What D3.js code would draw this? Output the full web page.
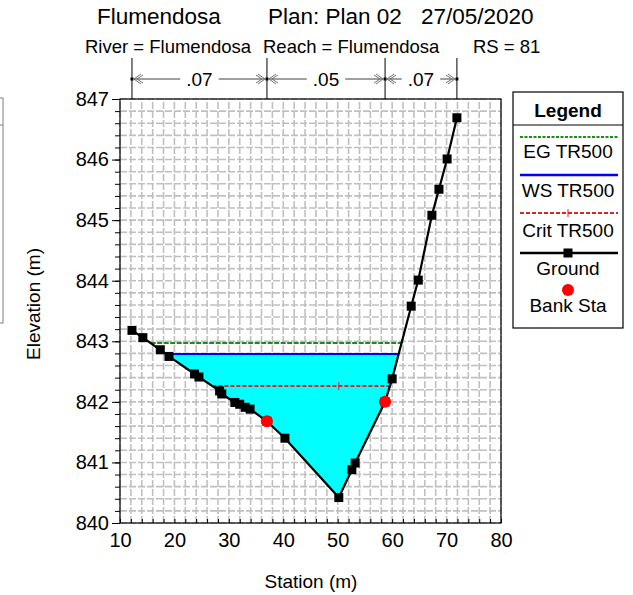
<!DOCTYPE html>
<html>
<head>
<meta charset="utf-8">
<script src="https://cdn.jsdelivr.net/npm/d3@7"></script>
<style>
  html, body { margin: 0; padding: 0; background: #fff; }
  svg { display: block; font-family: Arial, "Liberation Sans", sans-serif; }
</style>
</head>
<body>
<svg id="chart" width="633" height="595"></svg>
<script>
// Cross section RS 81 - ground profile (station m, elevation m)
const groundStation = [12.2, 14.2, 17.4, 19.0, 23.7, 24.5, 28.3, 28.7, 31.1, 32.0, 33.0, 33.9, 37.0, 40.3, 50.2, 52.6, 53.2, 58.7, 60.0, 63.5, 64.8, 67.3, 68.6, 70.1, 71.9];
const groundElev    = [843.18, 843.06, 842.86, 842.75, 842.46, 842.41, 842.18, 842.13, 841.99, 841.96, 841.91, 841.88, 841.68, 841.40, 840.42, 840.88, 840.99, 842.00, 842.38, 843.58, 844.01, 845.08, 845.51, 846.01, 846.69];

// Bank stations
const bankStation = [37.0, 58.7];
const bankElev    = [841.68, 842.00];

// Profile TR500 results
const egElev   = 842.97;
const wsElev   = 842.79;
const critElev = 842.26;
const critMarkStation = 50.2;

// Manning's n regions
const nBreaks = [12.2, 37.0, 58.7, 71.9];
const nValues = [".07", ".05", ".07"];

// Axis ticks
const xTicks = [10, 20, 30, 40, 50, 60, 70, 80];
const yTicks = [840, 841, 842, 843, 844, 845, 846, 847];

const legendLabels = ["EG TR500", "WS TR500", "Crit TR500", "Ground", "Bank Sta"];

const svg = d3.select("#chart");
const x = d3.scaleLinear().domain([10, 80]).range([120, 501]);
const y = d3.scaleLinear().domain([840, 847]).range([523, 99]);

const ground = groundStation.map((s, i) => [s, groundElev[i]]);

// Part of a neighbouring panel box at the left edge
svg.append("rect").attr("x", -10).attr("y", 98).attr("width", 13).attr("height", 225)
  .attr("fill", "none").attr("stroke", "#808080");
svg.append("line").attr("x1", -10).attr("x2", 3).attr("y1", 125).attr("y2", 125).attr("stroke", "#808080");

// Titles
svg.append("text").attr("x", 97).attr("y", 24).attr("font-size", 22.5).text("Flumendosa");
svg.append("text").attr("x", 268).attr("y", 24).attr("font-size", 22.5).text("Plan: Plan 02");
svg.append("text").attr("x", 421).attr("y", 24).attr("font-size", 22.5).text("27/05/2020");
svg.append("text").attr("x", 85).attr("y", 53).attr("font-size", 18.5).text("River = Flumendosa");
svg.append("text").attr("x", 263).attr("y", 53).attr("font-size", 18.5).text("Reach = Flumendosa");
svg.append("text").attr("x", 473).attr("y", 53).attr("font-size", 18.5).text("RS = 81");

// Grid (every 2 m horizontally, every 0.2 m vertically)
const grid = svg.append("g");
const xMinor = d3.range(10, 80.001, 2);
const yMinor = d3.range(840, 847.001, 0.2);
grid.selectAll("line.gx").data(xMinor).join("line")
  .attr("x1", d => x(d)).attr("x2", d => x(d)).attr("y1", y(840)).attr("y2", y(847))
  .attr("stroke", "#c0c0c0").attr("stroke-width", 1.6).attr("stroke-dasharray", "7,2");
grid.selectAll("line.gy").data(yMinor).join("line")
  .attr("x1", x(10)).attr("x2", x(80)).attr("y1", d => y(d)).attr("y2", d => y(d))
  .attr("stroke", "#c0c0c0").attr("stroke-width", 1.6).attr("stroke-dasharray", "7,2");

// Where a level crosses the ground: returns [left station, right station]
function crossings(level) {
  const xs = [];
  for (let i = 0; i < ground.length - 1; i++) {
    const [s0, e0] = ground[i], [s1, e1] = ground[i + 1];
    if ((e0 - level) * (e1 - level) <= 0 && e0 !== e1) {
      xs.push(s0 + (s1 - s0) * (level - e0) / (e1 - e0));
    }
  }
  return [d3.min(xs), d3.max(xs)];
}

// Water area below WS
const [wsL, wsR] = crossings(wsElev);
const waterPts = [[wsL, wsElev]]
  .concat(ground.filter(p => p[0] > wsL && p[0] < wsR))
  .concat([[wsR, wsElev]]);
svg.append("path")
  .attr("d", d3.line().x(d => x(d[0])).y(d => y(d[1]))(waterPts) + "Z")
  .attr("fill", "#00ffff").attr("stroke", "none");

// EG line
const [egL, egR] = crossings(egElev);
svg.append("line").attr("x1", x(egL)).attr("x2", x(egR)).attr("y1", y(egElev)).attr("y2", y(egElev))
  .attr("stroke", "#1f8a1f").attr("stroke-width", 2).attr("stroke-dasharray", "5,1.5");

// WS line
svg.append("line").attr("x1", x(wsL)).attr("x2", x(wsR)).attr("y1", y(wsElev)).attr("y2", y(wsElev))
  .attr("stroke", "#0000ff").attr("stroke-width", 2);

// Critical depth line
const [crL, crR] = crossings(critElev);
svg.append("line").attr("x1", x(crL)).attr("x2", x(crR)).attr("y1", y(critElev)).attr("y2", y(critElev))
  .attr("stroke", "#e82020").attr("stroke-width", 2).attr("stroke-dasharray", "4,2");
svg.append("line").attr("x1", x(critMarkStation)).attr("x2", x(critMarkStation))
  .attr("y1", y(critElev) - 4).attr("y2", y(critElev) + 4).attr("stroke", "#e82020").attr("stroke-width", 1);

// Ground
svg.append("path")
  .attr("d", d3.line().x(d => x(d[0])).y(d => y(d[1]))(ground))
  .attr("fill", "none").attr("stroke", "#000").attr("stroke-width", 2.2);
svg.selectAll("rect.gpt").data(ground).join("rect")
  .attr("x", d => x(d[0]) - 4.5).attr("y", d => y(d[1]) - 4.5).attr("width", 9).attr("height", 9)
  .attr("fill", "#000");

// Bank stations
svg.selectAll("circle.bank").data(bankStation).join("circle")
  .attr("cx", d => x(d)).attr("cy", (d, i) => y(bankElev[i])).attr("r", 6)
  .attr("fill", "#ff0000");

// Plot frame
svg.append("rect").attr("x", x(10)).attr("y", y(847)).attr("width", x(80) - x(10)).attr("height", y(840) - y(847))
  .attr("fill", "none").attr("stroke", "#000").attr("stroke-width", 1.2);

// Axes
const yAxis = svg.append("g").attr("transform", `translate(${x(10)},0)`)
  .call(d3.axisLeft(y).tickValues(yTicks).tickFormat(d3.format("d")).tickSize(8).tickPadding(3));
svg.append("g").attr("transform", `translate(${x(10)},0)`)
  .call(d3.axisLeft(y).tickValues(yMinor).tickFormat("").tickSize(5));
const xAxis = svg.append("g").attr("transform", `translate(0,${y(840)})`)
  .call(d3.axisBottom(x).tickValues(xTicks).tickFormat(d3.format("d")).tickSize(0).tickPadding(10));
svg.append("g").attr("transform", `translate(0,${y(840)})`)
  .call(d3.axisBottom(x).tickValues(xMinor).tickFormat("").tickSizeInner(-4).tickSizeOuter(0));
svg.selectAll(".domain").remove();
svg.selectAll(".tick line").attr("stroke", "#000");
yAxis.selectAll("text").attr("font-size", 20).attr("font-family", "Arial, 'Liberation Sans', sans-serif").attr("fill", "#000");
xAxis.selectAll("text").attr("font-size", 20).attr("font-family", "Arial, 'Liberation Sans', sans-serif").attr("fill", "#000");

// Axis titles
svg.append("text").attr("x", 311).attr("y", 588).attr("text-anchor", "middle").attr("font-size", 19).text("Station (m)");
svg.append("text").attr("transform", "translate(40,304) rotate(-90)").attr("text-anchor", "middle")
  .attr("font-size", 19).text("Elevation (m)");

// Manning's n annotation above plot
const ann = svg.append("g");
ann.selectAll("line.nb").data(nBreaks).join("line")
  .attr("x1", d => x(d)).attr("x2", d => x(d)).attr("y1", 58).attr("y2", y(847))
  .attr("stroke", "#000").attr("stroke-width", 1);
const arrowY = 79;
nValues.forEach((v, i) => {
  const a = x(nBreaks[i]), b = x(nBreaks[i + 1]);
  const mid = (a + b) / 2;
  const t = ann.append("text").attr("x", mid).attr("y", arrowY + 7).attr("text-anchor", "middle")
    .attr("font-size", 19).text(v);
  const half = t.node().getComputedTextLength() / 2 + 6;
  ann.append("line").attr("x1", a + 2).attr("x2", mid - half).attr("y1", arrowY).attr("y2", arrowY)
    .attr("stroke", "#404040").attr("stroke-width", 1);
  ann.append("line").attr("x1", mid + half).attr("x2", b - 2).attr("y1", arrowY).attr("y2", arrowY)
    .attr("stroke", "#404040").attr("stroke-width", 1);
  // open chevron heads
  ann.append("path").attr("d", `M${a + 9},${arrowY - 5} L${a + 2},${arrowY} L${a + 9},${arrowY + 5} M${a + 11},${arrowY - 4} L${a + 5},${arrowY} L${a + 11},${arrowY + 4}`)
    .attr("fill", "none").attr("stroke", "#707070").attr("stroke-width", 1);
  ann.append("path").attr("d", `M${b - 9},${arrowY - 5} L${b - 2},${arrowY} L${b - 9},${arrowY + 5} M${b - 11},${arrowY - 4} L${b - 5},${arrowY} L${b - 11},${arrowY + 4}`)
    .attr("fill", "none").attr("stroke", "#707070").attr("stroke-width", 1);
});
ann.selectAll("rect.nd").data(nBreaks).join("rect")
  .attr("x", d => x(d) - 1.5).attr("y", arrowY - 1.5).attr("width", 3).attr("height", 3).attr("fill", "#000");

// Legend
const lg = svg.append("g");
lg.append("rect").attr("x", 513).attr("y", 92).attr("width", 110).attr("height", 236)
  .attr("fill", "#fff").attr("stroke", "#000").attr("stroke-width", 1.2);
lg.append("line").attr("x1", 513).attr("x2", 623).attr("y1", 125).attr("y2", 125).attr("stroke", "#000");
lg.append("text").attr("x", 568).attr("y", 117).attr("text-anchor", "middle").attr("font-size", 19)
  .attr("font-weight", "bold").text("Legend");
const lx1 = 520, lx2 = 618, lcx = 568;
lg.append("line").attr("x1", lx1).attr("x2", lx2).attr("y1", 137).attr("y2", 137)
  .attr("stroke", "#1f8a1f").attr("stroke-width", 2).attr("stroke-dasharray", "3,1.5");
lg.append("line").attr("x1", lx1).attr("x2", lx2).attr("y1", 175).attr("y2", 175)
  .attr("stroke", "#0000ff").attr("stroke-width", 2.4);
lg.append("line").attr("x1", lx1).attr("x2", lx2).attr("y1", 213).attr("y2", 213)
  .attr("stroke", "#e82020").attr("stroke-width", 2).attr("stroke-dasharray", "4,2");
lg.append("line").attr("x1", lcx).attr("x2", lcx).attr("y1", 209).attr("y2", 217)
  .attr("stroke", "#e82020").attr("stroke-width", 1);
lg.append("line").attr("x1", lx1).attr("x2", lx2).attr("y1", 253).attr("y2", 253)
  .attr("stroke", "#000").attr("stroke-width", 2.4);
lg.append("rect").attr("x", lcx - 4.5).attr("y", 248.5).attr("width", 9).attr("height", 9).attr("fill", "#000");
lg.append("circle").attr("cx", lcx).attr("cy", 290).attr("r", 6).attr("fill", "#ff0000");
const legendY = [158, 197, 237, 275, 312];
lg.selectAll("text.item").data(legendLabels).join("text")
  .attr("x", lcx).attr("y", (d, i) => legendY[i]).attr("text-anchor", "middle").attr("font-size", 19)
  .text(d => d);
</script>
</body>
</html>
